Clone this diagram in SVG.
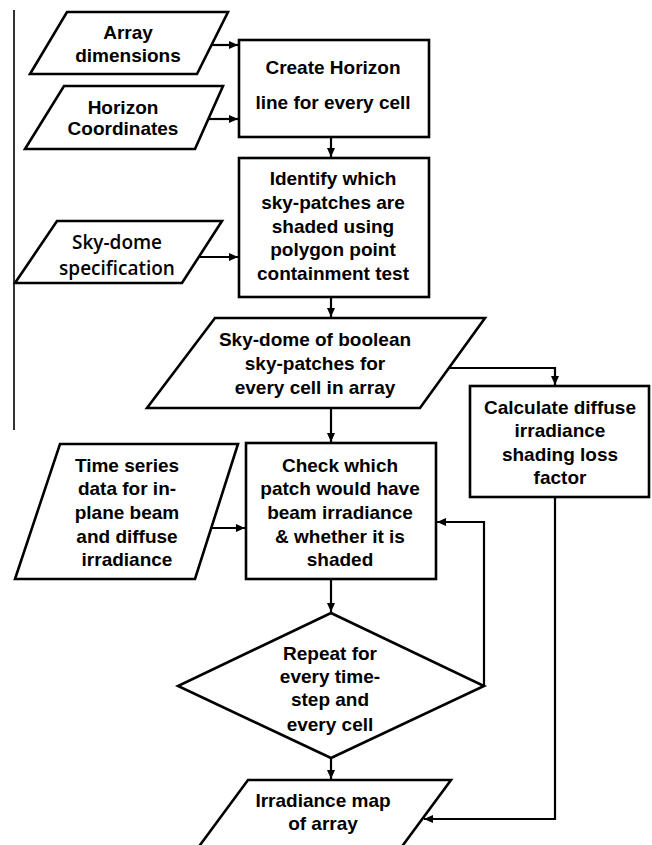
<svg xmlns="http://www.w3.org/2000/svg" width="652" height="845" viewBox="0 0 652 845">
<defs>
<marker id="ah" markerUnits="userSpaceOnUse" markerWidth="10" markerHeight="8" refX="9" refY="4" orient="auto">
<path d="M0,0 L9,4 L0,8 Z" fill="#000"/>
</marker>
<style>
.shape{fill:#fff;stroke:#000;stroke-width:2.6;stroke-linejoin:miter}
.conn{fill:none;stroke:#000;stroke-width:2.2}
.t{font-family:"Liberation Sans",Arial,sans-serif;font-weight:bold;font-size:19px;fill:#000;text-anchor:middle}
.t2{font-family:"Open Sans","Noto Sans",sans-serif;font-weight:600;font-size:19px;fill:#000;text-anchor:middle}
</style>
</defs>
<rect width="652" height="845" fill="#fff"/>
<line x1="14" y1="10" x2="14" y2="430" stroke="#000" stroke-width="1.6"/>

<g id="connectors">
<path class="conn" d="M211,45 H238" marker-end="url(#ah)"/>
<path class="conn" d="M208,119 H238" marker-end="url(#ah)"/>
<path class="conn" d="M331,137 V157" marker-end="url(#ah)"/>
<path class="conn" d="M199,257 H238" marker-end="url(#ah)"/>
<path class="conn" d="M331,297 V317" marker-end="url(#ah)"/>
<path class="conn" d="M449,368 H555 V385" marker-end="url(#ah)"/>
<path class="conn" d="M331,408 V442" marker-end="url(#ah)"/>
<path class="conn" d="M211,528 H245" marker-end="url(#ah)"/>
<path class="conn" d="M331,579 V612" marker-end="url(#ah)"/>
<path class="conn" d="M484,686 V522 H437" marker-end="url(#ah)"/>
<path class="conn" d="M331,758 V779" marker-end="url(#ah)"/>
<path class="conn" d="M555,497 V819 H424" marker-end="url(#ah)"/>
</g>

<g id="array-dimensions">
<polygon class="shape" points="67,12 228,12 197,74 30,74"/>
<text class="t" x="128" y="39">Array</text>
<text class="t" x="128" y="62">dimensions</text>
</g>

<g id="horizon-coordinates">
<polygon class="shape" points="64,86 223,86 195,149 25,149"/>
<text class="t" x="123" y="114">Horizon</text>
<text class="t" x="123" y="135">Coordinates</text>
</g>

<g id="create-horizon">
<rect class="shape" x="239" y="40" width="190" height="97"/>
<text class="t" x="333" y="74">Create Horizon</text>
<text class="t" x="333" y="109">line for every cell</text>
</g>

<g id="identify">
<rect class="shape" x="239" y="158" width="190" height="139"/>
<text class="t" x="333" y="185">Identify which</text>
<text class="t" x="333" y="209">sky-patches are</text>
<text class="t" x="333" y="233">shaded using</text>
<text class="t" x="333" y="256">polygon point</text>
<text class="t" x="333" y="280">containment test</text>
</g>

<g id="sky-dome-spec">
<polygon class="shape" points="57,221 222,221 182,283 15,283"/>
<text class="t2" x="117" y="249">Sky-dome</text>
<text class="t2" x="117" y="275">specification</text>
</g>

<g id="sky-dome-boolean">
<polygon class="shape" points="215,318 485,318 420,408 147,408"/>
<text class="t" x="315" y="346">Sky-dome of boolean</text>
<text class="t" x="315" y="370">sky-patches for</text>
<text class="t" x="315" y="394">every cell in array</text>
</g>

<g id="calculate-diffuse">
<rect class="shape" x="470" y="386" width="179" height="111"/>
<text class="t" x="560" y="414">Calculate diffuse</text>
<text class="t" x="560" y="437">irradiance</text>
<text class="t" x="560" y="461">shading loss</text>
<text class="t" x="560" y="484">factor</text>
</g>

<g id="time-series">
<polygon class="shape" points="60,444 238,444 195,579 15,579"/>
<text class="t" x="127" y="472">Time series</text>
<text class="t" x="127" y="495">data for in-</text>
<text class="t" x="127" y="519">plane beam</text>
<text class="t" x="127" y="543">and diffuse</text>
<text class="t" x="127" y="566">irradiance</text>
</g>

<g id="check-patch">
<rect class="shape" x="246" y="443" width="190" height="136"/>
<text class="t" x="340" y="472">Check which</text>
<text class="t" x="340" y="495">patch would have</text>
<text class="t" x="340" y="519">beam irradiance</text>
<text class="t" x="340" y="543">&amp; whether it is</text>
<text class="t" x="340" y="566">shaded</text>
</g>

<g id="repeat">
<polygon class="shape" points="331,613 484,686 331,758 178,686"/>
<text class="t" x="330" y="660">Repeat for</text>
<text class="t" x="330" y="683">every time-</text>
<text class="t" x="330" y="706">step and</text>
<text class="t" x="330" y="731">every cell</text>
</g>

<g id="irradiance-map">
<polygon class="shape" points="248,780 451,780 392,860 189,860"/>
<text class="t" x="323" y="807">Irradiance map</text>
<text class="t" x="323" y="830">of array</text>
</g>
</svg>
